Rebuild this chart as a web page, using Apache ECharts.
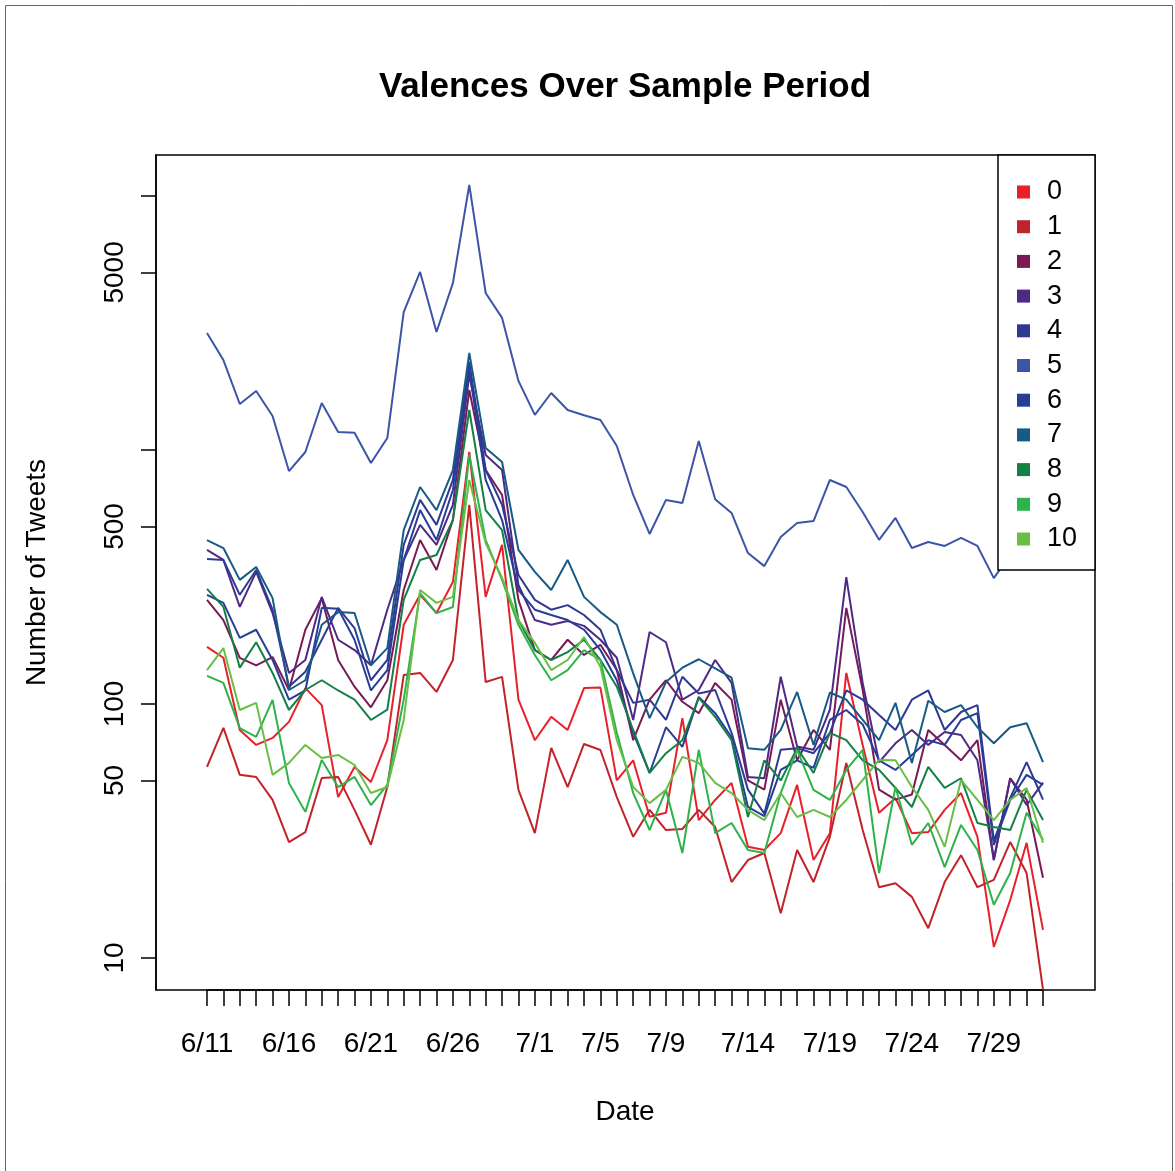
<!DOCTYPE html>
<html>
<head>
<meta charset="utf-8">
<script src="https://cdn.jsdelivr.net/npm/echarts@6/dist/echarts.min.js"></script>
<style>
  html, body { margin: 0; padding: 0; background: #ffffff; }
  #chart { width: 1175px; height: 1171px; }
</style>
</head>
<body>
<div id="chart"></div>
<script>
// Daily dates, 6/11 through 8/1
const dates = [
  '6/11','6/12','6/13','6/14','6/15','6/16','6/17','6/18','6/19','6/20',
  '6/21','6/22','6/23','6/24','6/25','6/26','6/27','6/28','6/29','6/30',
  '7/1','7/2','7/3','7/4','7/5','7/6','7/7','7/8','7/9','7/10',
  '7/11','7/12','7/13','7/14','7/15','7/16','7/17','7/18','7/19','7/20',
  '7/21','7/22','7/23','7/24','7/25','7/26','7/27','7/28','7/29','7/30',
  '7/31','8/1'
];
// Dates that carry a label on the x axis
const dateLabels = ['6/11','6/16','6/21','6/26','7/1','7/5','7/9','7/14','7/19','7/24','7/29'];
// Log-axis ticks and the ones that are labelled
const yTicks = [10, 50, 100, 500, 1000, 5000, 10000];
const yLabels = [10, 50, 100, 500, 5000];

const valences = ['0','1','2','3','4','5','6','7','8','9','10'];
const colors = ['#e8202a','#c1232b','#7a1a55','#4e2a84','#2e3a92','#3d55a6','#273d97','#175a85','#138048','#2eb24b','#6abd45'];

// Tweets per day for each valence
const v0 = [167.8,152,79,69,73.5,85,115.5,99,43,56.5,49.3,72,205,269,228,302,982,264,423,104,72,89,79,115.5,116,50,60,36,37.3,88,34.9,41.9,48.9,27.4,26.6,31,48,24.3,31,132.5,69,37.3,42.6,31,31.3,38.3,44.6,30,11.05,16.9,28.4,12.9];
const v1 = [56.5,80.5,52.6,51.6,41.9,28.6,31.3,51.1,51.6,38.3,27.9,47.1,130,132.5,111.5,149,607.5,122,127.8,45.9,31,67.2,47.1,69.6,65.9,43,30,38.3,31.9,32.2,38.3,32.8,19.9,24.3,25.9,15,26.6,19.9,30,58.6,31.9,19,19.7,17.4,13.1,19.9,25.4,19,20.3,28.6,21.6,7.5];
const v2 = [257,214,152,142,153,113.5,196,261,149,117,97,124,281,442,337,530,1723,834,665,257,163,149,179,156,171,136,72,104,124,102,92,121,104,50,46,104,60,79,66,239,113.5,46,42,44,79,69,60,72,24.3,51,42,20.7];
const v3 = [404,369,241,331,228,132.5,149,264,179,163,142,235,369,507,423,608,1974,956,834,294,214,205,212,203,179,152,86.5,192,175,104,113.5,149,121,51.6,51,128,68,66,95,316,121,59,70,79,69,77.6,75.5,60,24.3,51,40,49];
const v4 = [372,369,269,337,235,117,134,179,239,199,124,149,423,636,507,762,2221,834,608,322,257,235,245,224,196,136,101,104,86.5,128,110,113.5,77,46,37,66,67,64,77,113,104,90.5,79,104,113,79,93,99,29,42.7,59,42];
const v5 = [2890,2260,1517,1708,1361,826,982,1531,1178,1170,889,1115,3493,5023,2915,4540,11050,4150,3311,1870,1374,1676,1437,1370,1312,1037,665,467,636,618,1084,640,565,393,349,454,516,525,762,715,570,443,540,411,434,419,451,419,313,386,411,398];
const v6 = [269,250,182,196,149,104,113,239,237,179,113,136,369,580,442,696,2065,762,530,281,235,224,214,196,163,124,77,53.5,81,67.8,106.6,92,74,39.3,36.2,55,60,56,86.5,94.7,83,60,55,63,72,69,86.5,92,27.9,41.9,52.6,48];
const v7 = [442,411,308,346,261,113.5,124,205,230,228,142,166,484,715,580,834,2410,1018,897,404,331,281,369,264,230,205,132,88,122,139,150,138,127,67,66,79,111.5,69,111,104,86.5,72,101,58.6,103,93,99,81,70,81,84,59];
const v8 = [284,241,139,175,132.5,94.7,113.5,124,113,104,86.5,95,257,369,386,530,1437,580,484,214,163,149,160,179,149,117,79,53.5,64,72,105.6,89,72,35.9,60,50,67,53.5,77,72,60,55,46.7,39.3,56.5,46.7,51,34,32.8,31.9,45.9,34.9];
const v9 = [129,121,80.4,74.2,103.7,48.9,37.6,60.2,47.1,51.6,40,48,104,273,228,241,956,442,308,205,156,124,136,163,149,77,44.6,31.9,45.9,25.9,66,31,34,26.6,25.9,44.6,66,45.9,41.9,55,66,21.6,47.1,27.9,34,22.8,33.4,26.6,16.2,21.6,37.3,29.2];
const v10 = [136,166,94.7,101,52.6,58.6,69,61.3,63,57.5,44.6,47.1,86.5,281,250,264,762,430,313.5,214,174,136,149,183.5,140,72,47.1,40.7,45.9,61.9,58.6,48.9,44.6,38.3,34.9,44.6,35.9,38.3,35.9,41.9,50.2,60.2,60,47.1,38.3,27.4,50.2,41.9,34.9,41.9,46.7,28.4];

const seriesValues = [v0, v1, v2, v3, v4, v5, v6, v7, v8, v9, v10];

const FONT = 'Liberation Sans, Arial, Helvetica, sans-serif';
const chart = echarts.init(document.getElementById('chart'), null, { renderer: 'canvas' });

chart.setOption({
  animation: false,
  backgroundColor: '#ffffff',
  // thin frame around the whole figure
  graphic: [{
    type: 'rect',
    left: 3,
    top: 3,
    silent: true,
    shape: { width: 1167, height: 1182 },
    style: { fill: 'none', stroke: '#666', lineWidth: 1 }
  }],
  title: {
    text: 'Valences Over Sample Period',
    left: 620,
    top: 65,
    textAlign: 'center',
    textStyle: { fontFamily: FONT, fontSize: 35, fontWeight: 'bold', color: '#000' }
  },
  legend: {
    data: valences,
    orient: 'vertical',
    left: 998,
    top: 155,
    icon: 'rect',
    itemWidth: 13,
    itemHeight: 13,
    itemGap: 6.7,
    padding: [23, 18, 17, 19],
    backgroundColor: '#ffffff',
    borderColor: '#000000',
    borderWidth: 1.5,
    selectedMode: false,
    textStyle: { fontFamily: FONT, fontSize: 27, lineHeight: 28, color: '#000', padding: [0, 0, 0, 12] }
  },
  grid: [
    { left: 207, right: 132, top: 155, bottom: 181, containLabel: false },
    { left: 156, right: 80, top: 155, bottom: 181, show: true, borderColor: '#000', borderWidth: 1.5, backgroundColor: 'transparent' }
  ],
  xAxis: {
    type: 'category',
    gridIndex: 0,
    data: dates,
    boundaryGap: false,
    axisLine: { show: true, lineStyle: { color: '#000', width: 1.5 } },
    axisTick: { show: true, interval: 0, length: 16, lineStyle: { color: '#000', width: 1.5 } },
    axisLabel: {
      interval: (i, v) => dateLabels.includes(v),
      margin: 40,
      fontFamily: FONT, fontSize: 28, color: '#000'
    },
    splitLine: { show: false },
    name: 'Date',
    nameLocation: 'middle',
    nameGap: 108,
    nameTextStyle: { fontFamily: FONT, fontSize: 28, color: '#000' }
  },
  yAxis: {
    type: 'log',
    logBase: 10,
    gridIndex: 0,
    min: 7.48,
    max: 14500,
    offset: 51,
    axisLine: { show: true, lineStyle: { color: '#000', width: 1.5 } },
    axisTick: { show: true, length: 15, customValues: yTicks, lineStyle: { color: '#000', width: 1.5 } },
    axisLabel: {
      customValues: yLabels,
      rotate: 90,
      margin: 27,
      formatter: (v) => String(Math.round(v)),
      fontFamily: FONT, fontSize: 28, color: '#000'
    },
    minorTick: { show: false },
    splitLine: { show: false },
    name: 'Number of Tweets',
    nameLocation: 'middle',
    nameGap: 105,
    nameTextStyle: { fontFamily: FONT, fontSize: 28, color: '#000' }
  },
  series: seriesValues.map((vals, k) => ({
    name: valences[k],
    type: 'line',
    xAxisIndex: 0,
    yAxisIndex: 0,
    data: vals,
    showSymbol: false,
    symbol: 'none',
    silent: true,
    color: colors[k],
    itemStyle: { color: colors[k] },
    lineStyle: { color: colors[k], width: 2 },
    emphasis: { disabled: true }
  }))
});
</script>
</body>
</html>
